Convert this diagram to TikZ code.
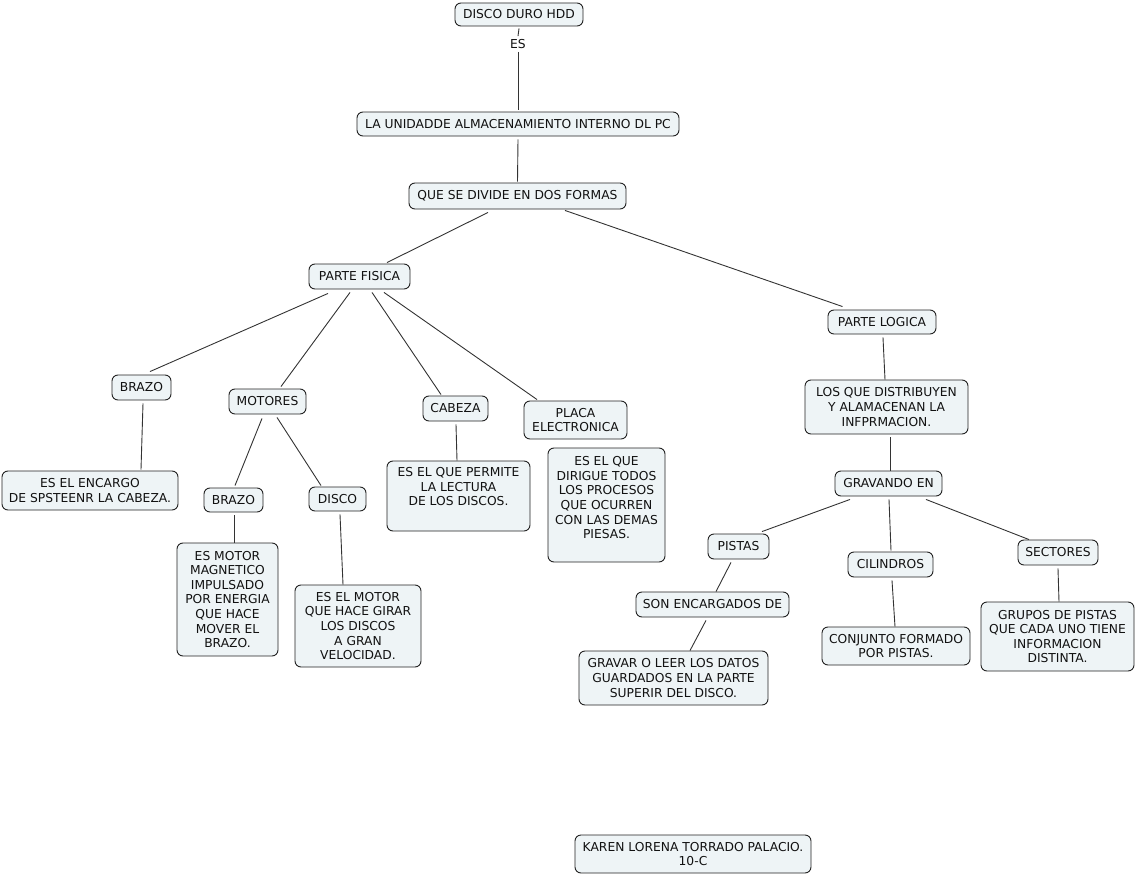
\documentclass[tikz,border=0pt]{standalone}
\usepackage{fontspec}
\setmainfont{DejaVu Sans}
\definecolor{boxfill}{HTML}{EEF4F6}
\definecolor{boxline}{HTML}{222222}
\definecolor{lineclr}{HTML}{333333}
\definecolor{txt}{HTML}{111111}
\newcommand{\toptext}[4]{\begin{minipage}[c][#1][t]{#2}\centering\vspace*{#3}#4\end{minipage}}
\begin{document}
\begin{tikzpicture}[x=1pt,y=-1pt,
  cbox/.style={draw=boxline, line width=0.9pt, fill=boxfill, rounded corners=6pt,
    inner sep=0pt, align=center, text=txt, font=\fontsize{12.3}{14.6}\selectfont},
  plain/.style={inner sep=3pt, text=txt, font=\fontsize{12.3}{14.6}\selectfont},
  conn/.style={draw=lineclr, line width=0.9pt}]
\useasboundingbox (0,0) rectangle (1136,875);

% top
\node[cbox, minimum width=128pt, minimum height=23pt] (hdd) at (519,14.5) {DISCO DURO HDD};
\node[plain] (es) at (518,44) {ES};
\node[cbox, minimum width=322pt, minimum height=24pt] (uni) at (518,124) {LA UNIDADDE ALMACENAMIENTO INTERNO DL PC};
\node[cbox, minimum width=217pt, minimum height=26pt] (que) at (517.5,196) {QUE SE DIVIDE EN DOS FORMAS};
\node[cbox, minimum width=101pt, minimum height=25pt] (pf) at (359.5,276.5) {PARTE FISICA};
\node[cbox, minimum width=108pt, minimum height=24pt] (pl) at (882,322) {PARTE LOGICA};

% physical branch
\node[cbox, minimum width=59pt, minimum height=25pt] (brazoa) at (141.5,387.5) {BRAZO};
\node[cbox, minimum width=77pt, minimum height=25pt] (mot) at (267.5,401.5) {MOTORES};
\node[cbox, minimum width=65pt, minimum height=25pt] (cab) at (455.5,408.5) {CABEZA};
\node[cbox, minimum width=103pt, minimum height=38pt] (placa) at (575.5,420) {PLACA\\ELECTRONICA};
\node[cbox, minimum width=176pt, minimum height=39pt] (enc) at (90,490.5) {ES EL ENCARGO\\DE SPSTEENR LA CABEZA.};
\node[cbox, minimum width=59pt, minimum height=24pt] (brazob) at (233.5,500) {BRAZO};
\node[cbox, minimum width=57pt, minimum height=24pt] (disco) at (337.5,499) {DISCO};
\node[cbox, minimum width=101pt, minimum height=113pt] (esmotor) at (227.5,599.5) {ES MOTOR\\MAGNETICO\\IMPULSADO\\POR ENERGIA\\QUE HACE\\MOVER EL\\BRAZO.};
\node[cbox, minimum width=126pt, minimum height=82pt] (esmotorb) at (358,626) {ES EL MOTOR\\QUE HACE GIRAR\\LOS DISCOS\\A GRAN\\VELOCIDAD.};
\node[cbox] (permite) at (458.5,496) {\toptext{70pt}{143pt}{6.5pt}{ES EL QUE PERMITE\\LA LECTURA\\DE LOS DISCOS.}};
\node[cbox] (dirigue) at (606.5,505) {\toptext{114pt}{117pt}{8.5pt}{ES EL QUE\\DIRIGUE TODOS\\LOS PROCESOS\\QUE OCURREN\\CON LAS DEMAS\\PIESAS.}};

% logical branch
\node[cbox, minimum width=163pt, minimum height=54pt] (losque) at (886.5,407) {LOS QUE DISTRIBUYEN\\Y ALAMACENAN LA\\INFPRMACION.};
\node[cbox, minimum width=107pt, minimum height=25pt] (grav) at (888.5,483.5) {GRAVANDO EN};
\node[cbox, minimum width=61pt, minimum height=25pt] (pistas) at (738.5,546.5) {PISTAS};
\node[cbox, minimum width=85pt, minimum height=25pt] (cil) at (890.5,564.5) {CILINDROS};
\node[cbox, minimum width=80pt, minimum height=25pt] (sect) at (1058,552.5) {SECTORES};
\node[cbox, minimum width=153pt, minimum height=25pt] (son) at (712.5,604.5) {SON ENCARGADOS DE};
\node[cbox, minimum width=189pt, minimum height=54pt] (gravar) at (673.5,678) {GRAVAR O LEER LOS DATOS\\GUARDADOS EN LA PARTE\\SUPERIR DEL DISCO.};
\node[cbox, minimum width=148pt, minimum height=38pt] (conj) at (896,646) {CONJUNTO FORMADO\\POR PISTAS.};
\node[cbox, minimum width=153pt, minimum height=69pt] (grupos) at (1057.5,636.5) {GRUPOS DE PISTAS\\QUE CADA UNO TIENE\\INFORMACION\\DISTINTA.};

\node[cbox, minimum width=236pt, minimum height=38pt] (karen) at (693,854) {KAREN LORENA TORRADO PALACIO.\\10-C};

% connectors
\draw[conn] ([yshift=-2pt]hdd.south) -- (es.north);
\draw[conn] (es.south) -- ([yshift=2pt]uni.north);
\draw[conn] ([yshift=-3pt]uni.south) -- ([yshift=1pt]que.north);
\draw[conn] ([xshift=-29.5pt,yshift=-3pt]que.south) -- ([xshift=27.5pt,yshift=1pt]pf.north);
\draw[conn] ([xshift=47.5pt,yshift=-1pt]que.south) -- ([xshift=-39.5pt,yshift=3pt]pl.north);
\draw[conn] ([xshift=-31.5pt,yshift=-4pt]pf.south) -- ([xshift=8.5pt,yshift=3pt]brazoa.north);
\draw[conn] ([xshift=-9.5pt,yshift=-3pt]pf.south) -- ([xshift=13.5pt,yshift=2pt]mot.north);
\draw[conn] ([xshift=12.5pt,yshift=-3pt]pf.south) -- ([xshift=-14.5pt,yshift=1pt]cab.north);
\draw[conn] ([xshift=24.5pt,yshift=-3pt]pf.south) -- ([xshift=-38.5pt,yshift=1pt]placa.north);
\draw[conn] ([xshift=1.5pt,yshift=-3pt]brazoa.south) -- ([xshift=51pt,yshift=1pt]enc.north);
\draw[conn] ([xshift=-5.5pt,yshift=-4pt]mot.south) -- ([xshift=1.5pt,yshift=2pt]brazob.north);
\draw[conn] ([xshift=9.5pt,yshift=-3pt]mot.south) -- ([xshift=-16.5pt,yshift=1pt]disco.north);
\draw[conn] ([xshift=0.5pt,yshift=-3pt]brazob.south) -- ([xshift=6.5pt]esmotor.north);
\draw[conn] ([xshift=2.5pt,yshift=-3pt]disco.south) -- ([xshift=-15pt]esmotorb.north);
\draw[conn] ([xshift=0.5pt,yshift=-3pt]cab.south) -- ([xshift=-1.5pt]permite.north);
\draw[conn] ([xshift=1pt,yshift=-3pt]pl.south) -- ([xshift=-1.5pt]losque.north);
\draw[conn] ([xshift=3.5pt,yshift=-3pt]losque.south) -- ([xshift=1.5pt]grav.north);
\draw[conn] ([xshift=-38.5pt,yshift=-3pt]grav.south) -- ([xshift=23.5pt,yshift=2pt]pistas.north);
\draw[conn] ([xshift=0.5pt,yshift=-3pt]grav.south) -- ([xshift=0.5pt,yshift=1pt]cil.north);
\draw[conn] ([xshift=37.5pt,yshift=-3pt]grav.south) -- ([xshift=-29pt]sect.north);
\draw[conn] ([xshift=-7.5pt,yshift=-3pt]pistas.south) -- ([xshift=3.5pt]son.north);
\draw[conn] ([xshift=-6.5pt,yshift=-3pt]son.south) -- ([xshift=16.5pt]gravar.north);
\draw[conn] ([xshift=1.5pt,yshift=-3pt]cil.south) -- ([xshift=-1pt]conj.north);
\draw[conn] ([xshift=0pt,yshift=-3pt]sect.south) -- ([xshift=1.5pt]grupos.north);
\end{tikzpicture}
\end{document}
